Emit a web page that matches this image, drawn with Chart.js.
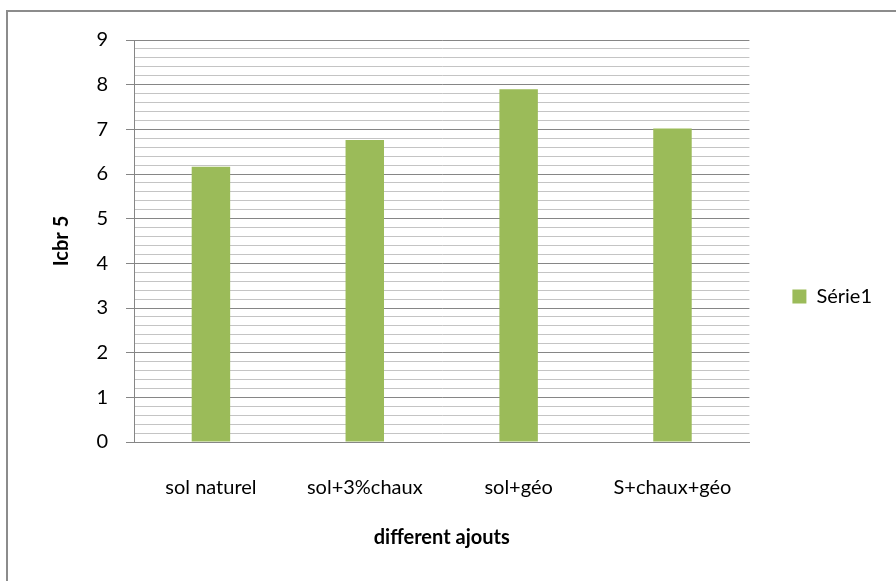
<!DOCTYPE html>
<html>
<head>
<meta charset="utf-8">
<script src="https://cdn.jsdelivr.net/npm/chart.js@4.4.0/dist/chart.umd.min.js"></script>
<style>
    body { margin: 0; background: #fff; }
    #wrap { position: relative; width: 896px; height: 581px; }
    #frame { position: absolute; left: 6px; top: 10px; width: 900px; height: 600px;
             border-left: 2px solid #8c8c8c; border-top: 2px solid #8c8c8c; pointer-events: none; }
</style>
</head>
<body>
<div id="wrap">
    <canvas id="chart" width="896" height="581"></canvas>
    <div id="frame"></div>
</div>
<script>
    // données
    const categories = ['sol naturel', 'sol+3%chaux', 'sol+géo', 'S+chaux+géo'];
    const serie1 = [6.16, 6.76, 7.9, 7.02];
    const seriesName = 'Série1';
    const yMin = 0;
    const yMax = 9;

    const fontFamily = 'Lato, "Open Sans", sans-serif';
    const isMajor = v => Math.abs(v - Math.round(v)) < 1e-6;

    const ctx = document.getElementById('chart').getContext('2d');
    new Chart(ctx, {
        type: 'bar',
        data: {
            labels: categories,
            datasets: [{
                label: seriesName,
                data: serie1,
                backgroundColor: '#9bbb59',
                barPercentage: 0.5,
                categoryPercentage: 0.5
            }]
        },
        options: {
            responsive: false,
            animation: false,
            layout: { padding: { top: 40, right: 14, left: 0, bottom: 28 } },
            plugins: {
                legend: {
                    position: 'right',
                    labels: {
                        boxWidth: 14,
                        boxHeight: 14,
                        color: '#000',
                        font: { family: fontFamily, size: 20 }
                    }
                },
                tooltip: { enabled: false }
            },
            scales: {
                x: {
                    afterFit: s => { s.height = 111; },
                    grid: { display: false, drawTicks: false },
                    border: { color: '#868686', width: 1 },
                    ticks: { color: '#000', padding: 34, font: { family: fontFamily, size: 20 } },
                    title: {
                        display: true,
                        text: 'different ajouts',
                        color: '#000',
                        font: { family: fontFamily, size: 20, weight: 'bold' },
                        padding: { top: 20, bottom: 3 }
                    }
                },
                y: {
                    min: yMin,
                    max: yMax,
                    afterFit: s => { s.width = 134; },
                    grid: {
                        color: c => isMajor(c.tick.value) ? '#868686' : '#c4c4c4',
                        tickColor: c => isMajor(c.tick.value) ? '#868686' : 'rgba(0,0,0,0)',
                        tickLength: 8
                    },
                    border: { color: '#868686', width: 1 },
                    ticks: {
                        stepSize: 0.2,
                        autoSkip: false,
                        color: '#000',
                        padding: 18,
                        font: { family: fontFamily, size: 20 },
                        callback: v => isMajor(v) ? Math.round(v) : ''
                    },
                    title: {
                        display: true,
                        text: 'Icbr 5',
                        color: '#000',
                        font: { family: fontFamily, size: 20, weight: 'bold' },
                        padding: { top: 50, bottom: 0 }
                    }
                },
                y2: {
                    position: 'right',
                    display: true,
                    afterFit: s => { s.width = 33; },
                    grid: { display: false, drawTicks: false },
                    border: { display: false },
                    ticks: { display: false }
                }
            }
        }
    });
</script>
</body>
</html>
